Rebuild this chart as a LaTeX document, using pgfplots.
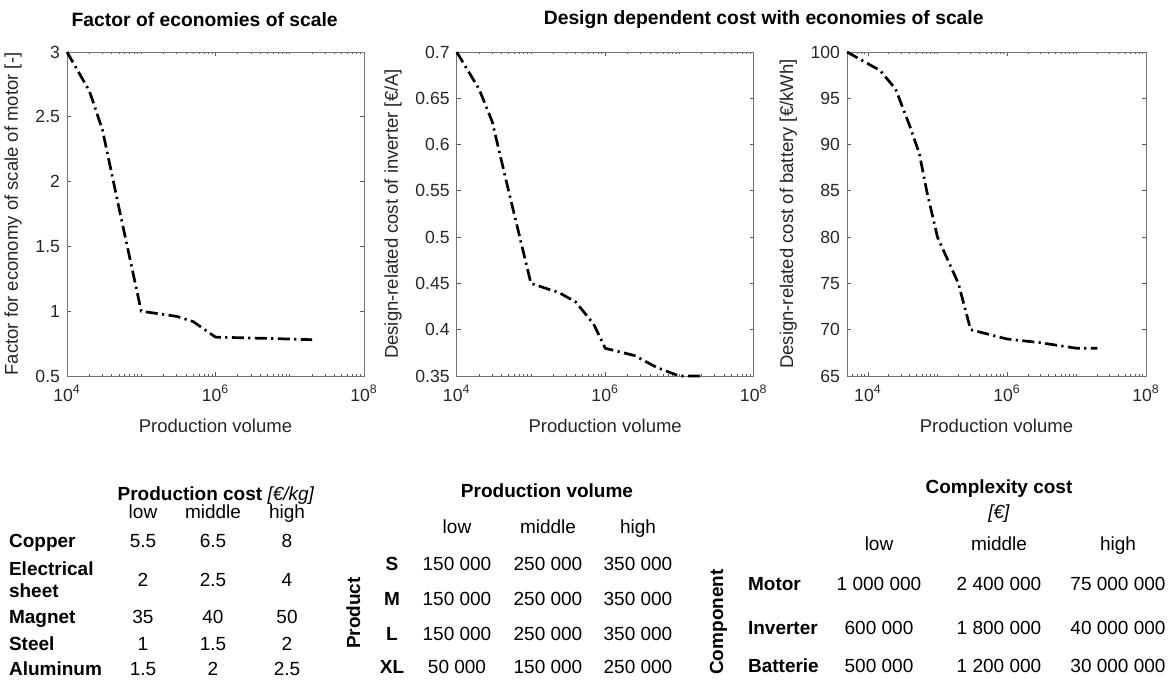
\documentclass[border=0pt]{standalone}
\usepackage{fontspec}
\setmainfont{Liberation Sans}
\usepackage{pgfplots}
\pgfplotsset{compat=1.18}

\pgfplotsset{
  every axis/.append style={
    scale only axis,
    axis line style={black!55, line width=0.5pt},
    every tick/.style={black!65, line width=0.4pt},
    major tick length=2pt, minor tick length=1.2pt,
    tick label style={font=\fontsize{8.8}{10}\selectfont, text=black!85},
    label style={font=\fontsize{9.25}{11}\selectfont, text=black!85},
    xticklabel style={yshift=-1pt},
    xlabel style={yshift=-2pt},
    height=162pt,
    clip=false,
  },
}
\tikzset{curve/.style={black, line width=1.35pt, dash pattern=on 6pt off 2.2pt on 1.1pt off 2.2pt}}
\newcommand\mxticks{6e3,7e3,8e3,9e3,2e4,3e4,4e4,5e4,6e4,7e4,8e4,9e4,1e5,2e5,3e5,4e5,5e5,6e5,7e5,8e5,9e5,2e6,3e6,4e6,5e6,6e6,7e6,8e6,9e6,1e7,2e7,3e7,4e7,5e7,6e7,7e7,8e7,9e7}

\begin{document}
\begin{tikzpicture}
\path[use as bounding box] (0pt,0pt) rectangle (586.5pt,341pt);

% titles
\node[font=\bfseries\fontsize{9.65}{11}\selectfont] at (102.35pt,331pt) {Factor of economies of scale};
\node[font=\bfseries\fontsize{9.65}{11}\selectfont] at (381.85pt,331pt) {Design dependent cost with economies of scale};

% motor
\begin{axis}[xmode=log, log basis x=10, at={(33.5pt,153pt)}, anchor=south west, width=148.5pt,
  xmin=1e4, xmax=1e8,
  xtick={1e4,1e6,1e8},
  xticklabels={10\textsuperscript{4},10\textsuperscript{6},10\textsuperscript{8}},
  minor xtick/.expanded={\mxticks},
  /pgf/number format/assume math mode=true,
  xlabel={Production volume},
  ymin=0.5, ymax=3, ytick={0.5,1,1.5,2,2.5,3},
  ylabel={Factor for economy of scale of motor [-]}]
\addplot[curve] coordinates {
  (1e4,3) (2e4,2.7) (3e4,2.4) (5e4,1.8) (1e5,1.0) (3e5,0.96) (5e5,0.92)
  (1e6,0.8) (5e6,0.79) (2e7,0.78)
};
\end{axis}

% inverter
\begin{axis}[xmode=log, log basis x=10, at={(228.35pt,153pt)}, anchor=south west, width=148.5pt,
  xmin=1e4, xmax=1e8,
  xtick={1e4,1e6,1e8},
  xticklabels={10\textsuperscript{4},10\textsuperscript{6},10\textsuperscript{8}},
  minor xtick/.expanded={\mxticks},
  /pgf/number format/assume math mode=true,
  xlabel={Production volume},
  ymin=0.35, ymax=0.7, ytick={0.35,0.4,0.45,0.5,0.55,0.6,0.65,0.7},
  ylabel={Design-related cost of inverter [€/A]}]
\addplot[curve] coordinates {
  (1e4,0.7) (2e4,0.66) (3e4,0.625) (5e4,0.55) (1e5,0.45) (2.4e5,0.44) (4e5,0.43)
  (7e5,0.406) (1e6,0.38) (2.5e6,0.372) (5e6,0.359) (1e7,0.35) (2e7,0.35)
};
\end{axis}

% battery
\begin{axis}[xmode=log, log basis x=10, at={(423.5pt,153pt)}, anchor=south west, width=149.5pt,
  xmin=5e3, xmax=1e8,
  xtick={1e4,1e6,1e8},
  xticklabels={10\textsuperscript{4},10\textsuperscript{6},10\textsuperscript{8}},
  minor xtick/.expanded={\mxticks},
  /pgf/number format/assume math mode=true,
  xlabel={Production volume},
  ymin=65, ymax=100, ytick={65,70,75,80,85,90,95,100},
  ylabel={Design-related cost of battery [€/kWh]}]
\addplot[curve] coordinates {
  (5e3,100) (1.5e4,98) (2.5e4,96) (4e4,92) (5.5e4,89) (7e4,85) (1e5,80)
  (2e5,75) (3e5,70) (1e6,69) (3e6,68.6) (1e7,68) (2e7,68)
};
\end{axis}

\begin{scope}[every node/.style={font=\fontsize{9.5}{11}\selectfont, text height=7pt, text depth=2pt}]
% table 1
\node at (108pt,93.5pt) {\textbf{Production cost} \textit{[€/kg]}};
\node at (71.5pt,84.5pt) {low};
\node at (106.5pt,84.5pt) {middle};
\node at (143.5pt,84.5pt) {high};
\node[anchor=west] at (1pt,70pt) {\textbf{Copper}};
\node[anchor=west] at (1pt,56pt) {\textbf{Electrical}};
\node[anchor=west] at (1pt,45pt) {\textbf{sheet}};
\node[anchor=west] at (1pt,32pt) {\textbf{Magnet}};
\node[anchor=west] at (1pt,18.5pt) {\textbf{Steel}};
\node[anchor=west] at (1pt,6pt) {\textbf{Aluminum}};
\node at (71.5pt,70pt) {5.5}; \node at (106.5pt,70pt) {6.5}; \node at (143.5pt,70pt) {8};
\node at (71.5pt,50.5pt) {2}; \node at (106.5pt,50.5pt) {2.5}; \node at (143.5pt,50.5pt) {4};
\node at (71.5pt,32pt) {35}; \node at (106.5pt,32pt) {40}; \node at (143.5pt,32pt) {50};
\node at (71.5pt,18.5pt) {1}; \node at (106.5pt,18.5pt) {1.5}; \node at (143.5pt,18.5pt) {2};
\node at (71.5pt,6pt) {1.5}; \node at (106.5pt,6pt) {2}; \node at (143.5pt,6pt) {2.5};

% table 2
\node at (273.5pt,95pt) {\textbf{Production volume}};
\node at (228.5pt,77pt) {low};
\node at (274pt,77pt) {middle};
\node at (319pt,77pt) {high};
\node[rotate=90] at (177.5pt,34.5pt) {\textbf{Product}};
\node at (196pt,58.5pt) {\textbf{S}};
\node at (196pt,41pt) {\textbf{M}};
\node at (196pt,23.5pt) {\textbf{L}};
\node at (196pt,7pt) {\textbf{XL}};
\node at (228.5pt,58.5pt) {150 000}; \node at (274pt,58.5pt) {250 000}; \node at (319pt,58.5pt) {350 000};
\node at (228.5pt,41pt) {150 000}; \node at (274pt,41pt) {250 000}; \node at (319pt,41pt) {350 000};
\node at (228.5pt,23.5pt) {150 000}; \node at (274pt,23.5pt) {250 000}; \node at (319pt,23.5pt) {350 000};
\node at (228.5pt,7pt) {50 000}; \node at (274pt,7pt) {150 000}; \node at (319pt,7pt) {250 000};

% table 3
\node at (499.5pt,97pt) {\textbf{Complexity cost}};
\node at (499.5pt,84.5pt) {\textit{[€]}};
\node at (439.5pt,68.5pt) {low};
\node at (499.5pt,68.5pt) {middle};
\node at (559pt,68.5pt) {high};
\node[rotate=90] at (359pt,30pt) {\textbf{Component}};
\node[anchor=west] at (370.5pt,48.5pt) {\textbf{Motor}};
\node[anchor=west] at (370.5pt,26.5pt) {\textbf{Inverter}};
\node[anchor=west] at (370.5pt,7.5pt) {\textbf{Batterie}};
\node at (439.5pt,48.5pt) {1 000 000}; \node at (499.5pt,48.5pt) {2 400 000}; \node at (559pt,48.5pt) {75 000 000};
\node at (439.5pt,26.5pt) {600 000}; \node at (499.5pt,26.5pt) {1 800 000}; \node at (559pt,26.5pt) {40 000 000};
\node at (439.5pt,7.5pt) {500 000}; \node at (499.5pt,7.5pt) {1 200 000}; \node at (559pt,7.5pt) {30 000 000};
\end{scope}
\end{tikzpicture}
\end{document}
